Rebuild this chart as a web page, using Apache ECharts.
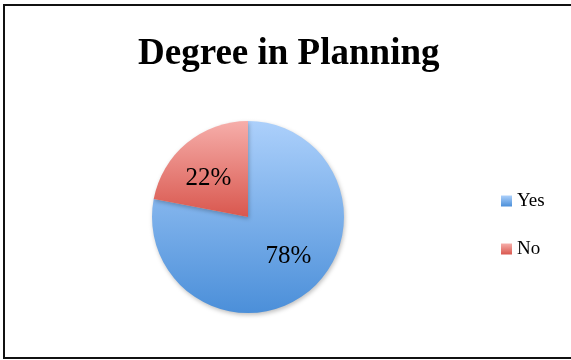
<!DOCTYPE html>
<html>
<head>
<meta charset="utf-8">
<script src="https://cdn.jsdelivr.net/npm/echarts@6/dist/echarts.min.js"></script>
<style>
  html, body { margin: 0; padding: 0; background: #fff; }
  #chart { width: 571px; height: 360px; }
</style>
</head>
<body>
<div id="chart"></div>
<script>
// Survey answers: share of respondents holding a planning degree
const categories = ['Yes', 'No'];
const shares = [78, 22];

const serif = '"Liberation Serif", "Times New Roman", serif';

// vertical gradients per slice, light at the top, deeper at the bottom
const sliceColors = [
  new echarts.graphic.LinearGradient(0, 0, 0, 1, [
    { offset: 0, color: '#acd0fb' },
    { offset: 1, color: '#4b8fd9' }
  ]),
  new echarts.graphic.LinearGradient(0, 0, 0, 1, [
    { offset: 0, color: '#f6aeaa' },
    { offset: 1, color: '#d9574e' }
  ])
];
const labelOffsets = [[8, 0], [-7, 1]];

const chart = echarts.init(document.getElementById('chart'), null, { renderer: 'canvas' });

chart.setOption({
  backgroundColor: '#ffffff',
  animation: false,
  title: {
    text: 'Degree in Planning',
    left: 138,
    top: 36,
    padding: 0,
    textStyle: { fontFamily: serif, fontWeight: 'bold', fontSize: 37, color: '#000' }
  },
  legend: {
    orient: 'vertical',
    left: 501,
    top: 191,
    padding: 0,
    icon: 'rect',
    itemWidth: 11,
    itemHeight: 11,
    itemGap: 28,
    data: categories,
    textStyle: { fontFamily: serif, fontSize: 19, color: '#000', lineHeight: 20 }
  },
  graphic: [{
    type: 'rect',
    shape: { x: 4, y: 5, width: 620, height: 353 },
    style: { fill: 'none', stroke: '#111', lineWidth: 2 },
    z: 100
  }],
  series: [{
    type: 'pie',
    center: [248, 217],
    radius: 96,
    startAngle: 90,
    clockwise: true,
    label: {
      show: true,
      position: 'inside',
      formatter: '{c}%',
      fontFamily: serif,
      fontSize: 25,
      color: '#000'
    },
    labelLine: { show: false },
    itemStyle: {
      borderWidth: 0,
      shadowBlur: 4,
      shadowColor: 'rgba(0,0,0,0.25)',
      shadowOffsetX: 1,
      shadowOffsetY: 2
    },
    emphasis: { disabled: true },
    data: categories.map((name, i) => ({
      name: name,
      value: shares[i],
      itemStyle: { color: sliceColors[i] },
      label: { offset: labelOffsets[i] }
    }))
  }]
});
</script>
</body>
</html>
